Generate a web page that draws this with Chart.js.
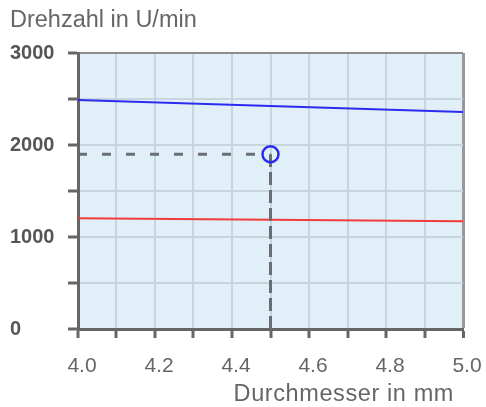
<!DOCTYPE html>
<html><head><meta charset="utf-8">
<script src="https://cdn.jsdelivr.net/npm/chart.js@4"></script>
<style>html,body{margin:0;padding:0;background:#fff;}</style>
</head><body>
<canvas id="c" width="486" height="407"></canvas>
<script>
// ---- data ----
const diameters = [4.0, 5.0];
const speedUpper = [2490, 2360];
const speedLower = [1205, 1172];
const markerX = [4.5];
const markerY = [1900];
const xTickLabels = ['4.0', '4.2', '4.4', '4.6', '4.8', '5.0'];
const yTickLabels = ['0', '1000', '2000', '3000'];
const yAxisTitle = 'Drehzahl in U/min';
const xAxisTitle = 'Durchmesser in mm';

const FONT = '"Liberation Sans", Arial, sans-serif';
Chart.defaults.font.family = FONT;

const pts = (xs, ys) => xs.map((x, i) => ({x: x, y: ys[i]}));

const plotBg = {
  id: 'plotBg',
  beforeDraw(chart) {
    const a = chart.chartArea, ctx = chart.ctx;
    ctx.save();
    ctx.fillStyle = '#e1f0f8';
    ctx.fillRect(a.left, a.top, a.right - a.left, a.bottom - a.top);
    ctx.restore();
  },
  afterDraw(chart) {
    const ctx = chart.ctx;
    ctx.save();
    ctx.fillStyle = '#666';
    ctx.textBaseline = 'alphabetic';
    ctx.font = '23.5px ' + FONT;
    ctx.textAlign = 'left';
    ctx.fillText(yAxisTitle, 10, 27);
    ctx.font = '23.5px ' + FONT;
    ctx.letterSpacing = '0.6px';
    ctx.textAlign = 'right';
    ctx.fillText(xAxisTitle, 454, 401);
    ctx.restore();
  }
};

new Chart(document.getElementById('c'), {
  type: 'scatter',
  data: {
    datasets: [
      {
        data: pts(markerX, markerY),
        pointRadius: 8, pointHoverRadius: 8,
        pointBorderWidth: 2.5,
        pointBorderColor: '#2b2bf0',
        pointBackgroundColor: 'rgba(0,0,0,0)',
        showLine: false
      },
      {
        data: [{x: diameters[0], y: markerY[0]}, {x: markerX[0], y: markerY[0]}],
        showLine: true, borderColor: '#6a6e72', borderWidth: 3,
        borderDash: [9, 15], pointRadius: 0, borderCapStyle: 'butt'
      },
      {
        data: [{x: markerX[0], y: 0}, {x: markerX[0], y: markerY[0]}],
        showLine: true, borderColor: '#6a6e72', borderWidth: 3,
        borderDash: [13, 5], pointRadius: 0, borderCapStyle: 'butt'
      },
      {
        data: pts(diameters, speedUpper),
        showLine: true, borderColor: '#2b2bf0', borderWidth: 2, pointRadius: 0
      },
      {
        data: pts(diameters, speedLower),
        showLine: true, borderColor: '#f03c3c', borderWidth: 2, pointRadius: 0
      }
    ]
  },
  options: {
    responsive: false,
    animation: false,
    events: [],
    layout: {padding: {left: 10, right: 23, top: 53, bottom: 0}},
    plugins: {legend: {display: false}, tooltip: {enabled: false}, title: {display: false}},
    scales: {
      x: {
        type: 'linear', min: 4, max: 5,
        afterFit(s) { s.height = 78; s.paddingLeft = 0; s.paddingRight = 0; },
        ticks: {
          stepSize: 0.1, autoSkip: false, maxRotation: 0,
          labelOffset: 4, padding: 16,
          color: '#666', font: {size: 21},
          callback(v) { const s = Number(v).toFixed(1); return xTickLabels.includes(s) ? s : ''; }
        },
        grid: {
          color: c => (c.tick && Math.abs(c.tick.value - 5) < 1e-6) ? '#999' : '#c9d5dc',
          lineWidth: c => (c.tick && Math.abs(c.tick.value - 5) < 1e-6) ? 3 : 2,
          tickColor: '#666', tickWidth: 3, tickLength: 9
        },
        border: {color: '#666', width: 3}
      },
      y: {
        type: 'linear', min: 0, max: 3000,
        afterFit(s) { s.width = 68; s.paddingTop = 0; s.paddingBottom = 0; },
        ticks: {
          stepSize: 500, autoSkip: false, crossAlign: 'far',
          color: '#555', font: {size: 20, weight: 'bold'},
          callback(v) { const s = String(v); return yTickLabels.includes(s) ? s : ''; }
        },
        grid: {
          color: c => (c.tick && c.tick.value === 3000) ? '#8c8c8c' : '#c9d5dc',
          lineWidth: 2,
          tickColor: '#666', tickWidth: 3, tickLength: 10
        },
        border: {color: '#666', width: 3}
      }
    }
  },
  plugins: [plotBg]
});
</script>
</body></html>
